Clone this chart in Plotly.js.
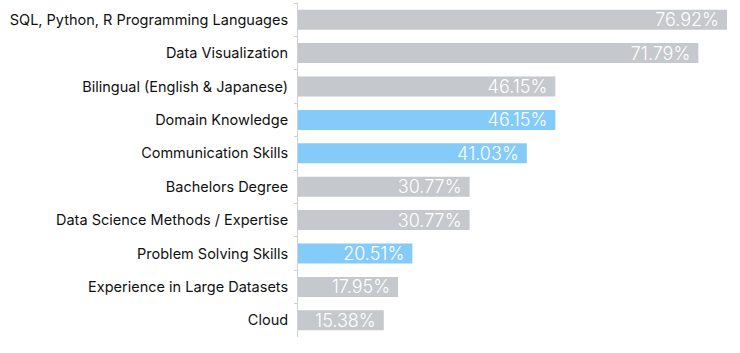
<!DOCTYPE html>
<html><head><meta charset="utf-8">
<script src="https://cdn.plot.ly/plotly-3.0.1.min.js"></script>
<style>html,body{margin:0;padding:0;background:#fff}</style>
</head><body><div id="chart" style="width:740px;height:353px"></div>
<script>
const categories = ["SQL, Python, R Programming Languages","Data Visualization","Bilingual (English & Japanese)","Domain Knowledge","Communication Skills","Bachelors Degree","Data Science Methods / Expertise","Problem Solving Skills","Experience in Large Datasets","Cloud"];
const values = [76.92,71.79,46.15,46.15,41.03,30.77,30.77,20.51,17.95,15.38];
const highlighted = [false,false,false,true,true,false,false,true,false,false];
const GRAY = "#c5c8cc", BLUE = "#84cbfa";
const colors = highlighted.map(h => h ? BLUE : GRAY);
const labels = values.map(v => v.toFixed(2) + "%\u00a0");
Plotly.newPlot("chart", [{
  type: "bar", orientation: "h",
  x: values, y: categories,
  marker: {color: colors},
  width: 0.6,
  text: labels, textposition: "inside", insidetextanchor: "end",
  textfont: {color: "#ffffff", size: 18, family: "Inter", weight: 300},
  constraintext: "none",
  hoverinfo: "none"
}], {
  width: 740, height: 353,
  margin: {l: 298, r: 5, t: 3, b: 16},
  paper_bgcolor: "#fff", plot_bgcolor: "#fff",
  showlegend: false,
  xaxis: {range: [0, 78.36], visible: false, fixedrange: true},
  yaxis: {autorange: "reversed", showline: true, linecolor: "#d0d0d0", linewidth: 1,
          ticks: "outside", tickson: "boundaries", ticklen: 3, tickcolor: "#d0d0d0",
          ticklabelstandoff: 6,
          tickfont: {size: 14.5, color: "#111", family: "Inter"}, showgrid: false, zeroline: false}
}, {displayModeBar: false, staticPlot: true});
</script></body></html>
